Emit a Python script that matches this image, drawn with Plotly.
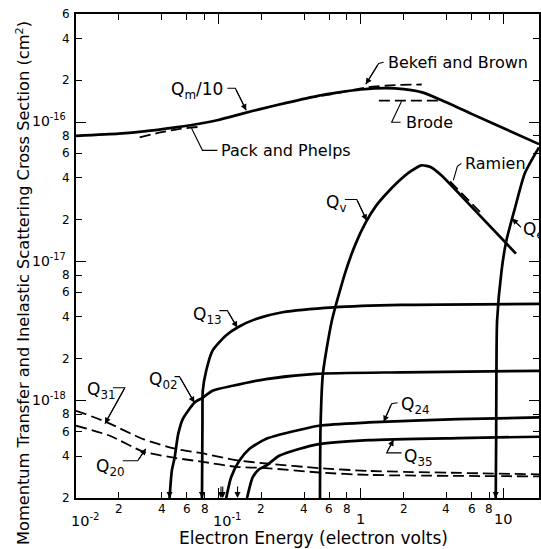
import math
import plotly.graph_objects as go

# ---- axis ticks -------------------------------------------------------
x_major = [0.01, 0.1, 1, 10]
x_major_text = ["10<sup>-2</sup>", "10<sup>-1</sup>", "1", "10"]
x_minor = [0.02, 0.04, 0.06, 0.08, 0.2, 0.4, 0.6, 0.8, 2, 4, 6, 8]
x_minor_text = ["2", "4", "6", "8"] * 3

y_major = [1e-18, 1e-17, 1e-16]
y_major_text = ["10<sup>-18</sup>", "10<sup>-17</sup>", "10<sup>-16</sup>"]
y_minor = [2e-19, 4e-19, 6e-19, 8e-19,
           2e-18, 4e-18, 6e-18, 8e-18,
           2e-17, 4e-17, 6e-17, 8e-17,
           2e-16, 4e-16, 6e-16]
y_minor_text = ["2", "4", "6", "8"] * 3 + ["2", "4", "6"]

X_MIN, X_MAX = 0.01, 17.86
Y_MIN, Y_MAX = 2e-19, 6e-16

# ---- cross sections (electron energy in eV, cross section in cm^2) ----
qm_e = [0.01, 0.02, 0.03, 0.05, 0.075, 0.1, 0.15, 0.2, 0.3, 0.5, 0.7, 1.0,
        1.5, 2.0, 2.7, 3.7, 6.0, 10, 17.86]
qm_q = [8.0e-17, 8.3e-17, 8.6e-17, 9.2e-17, 9.8e-17, 1.04e-16, 1.16e-16,
        1.25e-16, 1.38e-16, 1.55e-16, 1.64e-16, 1.72e-16, 1.76e-16, 1.73e-16,
        1.64e-16, 1.44e-16, 1.15e-16, 9.1e-17, 6.97e-17]

pack_e = [0.028, 0.04, 0.055, 0.075]
pack_q = [7.8e-17, 8.5e-17, 9.0e-17, 9.3e-17]

bekefi_e = [0.41, 0.6, 1.14, 1.75, 2.68]
bekefi_q = [1.49e-16, 1.58e-16, 1.79e-16, 1.85e-16, 1.87e-16]

brode_e = [1.34, 3.63]
brode_q = [1.43e-16, 1.43e-16]

qv_e = [0.517, 0.522, 0.542, 0.627, 0.786, 0.923, 1.084, 1.273, 1.496,
        1.844, 2.237, 2.67, 3.14, 3.68, 6.74, 12.3]
qv_q = [2.0e-19, 6.6e-19, 1.56e-18, 3.77e-18, 8.6e-18, 1.35e-17, 1.91e-17,
        2.49e-17, 3.03e-17, 3.77e-17, 4.44e-17, 4.91e-17, 4.74e-17, 4.16e-17,
        2.18e-17, 1.14e-17]

ramien_e = [4.24, 6.87]
ramien_q = [3.76e-17, 2.27e-17]

qe_e = [8.87, 8.93, 8.97, 9.07, 9.75, 10.55, 12.1, 14.2, 17.86]
qe_q = [2.0e-19, 5.15e-19, 1.56e-18, 3.77e-18, 8.6e-18, 1.42e-17, 2.41e-17,
        4.3e-17, 6.6e-17]

q13_e = [0.0767, 0.077, 0.0773, 0.0777, 0.0821, 0.091, 0.113, 0.137, 0.184,
         0.282, 0.648, 1.93, 17.86]
q13_q = [2.0e-19, 3.7e-19, 7.18e-19, 1.18e-18, 1.64e-18, 2.29e-18, 2.94e-18,
         3.37e-18, 3.87e-18, 4.32e-18, 4.69e-18, 4.88e-18, 4.96e-18]

q02_e = [0.0454, 0.0471, 0.0493, 0.0522, 0.0563, 0.0681, 0.0775, 0.091,
         0.126, 0.216, 0.482, 1.95, 17.86]
q02_q = [2.0e-19, 3.13e-19, 3.91e-19, 5.75e-19, 7.41e-19, 9.72e-19, 1.05e-18,
         1.18e-18, 1.28e-18, 1.43e-18, 1.56e-18, 1.60e-18, 1.64e-18]

q24_e = [0.1135, 0.1227, 0.1402, 0.1647, 0.2156, 0.508, 1.137, 4.84, 17.86]
q24_q = [2.0e-19, 2.81e-19, 3.70e-19, 4.50e-19, 5.31e-19, 6.61e-19, 6.98e-19,
         7.38e-19, 7.58e-19]

q35_e = [0.159, 0.174, 0.194, 0.216, 0.267, 0.368, 0.508, 1.137, 4.84, 17.86]
q35_q = [2.0e-19, 2.81e-19, 3.23e-19, 3.41e-19, 4.02e-19, 4.50e-19, 4.88e-19,
         5.21e-19, 5.39e-19, 5.51e-19]

q31_e = [0.01, 0.01596, 0.0296, 0.0506, 0.0777, 0.133, 0.216, 0.508, 1.137,
         17.86]
q31_q = [8.47e-19, 7.10e-19, 5.30e-19, 4.50e-19, 4.18e-19, 3.74e-19,
         3.54e-19, 3.28e-19, 3.13e-19, 2.96e-19]

q20_e = [0.01, 0.0173, 0.0296, 0.0506, 0.0777, 0.133, 0.216, 0.508, 1.137,
         17.86]
q20_q = [6.61e-19, 5.60e-19, 4.31e-19, 3.87e-19, 3.64e-19, 3.35e-19,
         3.28e-19, 3.05e-19, 2.93e-19, 2.86e-19]

# threshold energies marked with arrows on the energy axis
threshold_e = [0.0454, 0.0767, 0.1043, 0.1073, 0.1363, 8.87]

FONT = "DejaVu Sans"
INK = "black"

solid = [(qm_e, qm_q), (qv_e, qv_q), (qe_e, qe_q), (q13_e, q13_q),
         (q02_e, q02_q), (q24_e, q24_q), (q35_e, q35_q)]
dashed = [(pack_e, pack_q), (bekefi_e, bekefi_q), (brode_e, brode_q),
          (ramien_e, ramien_q), (q31_e, q31_q), (q20_e, q20_q)]

fig = go.Figure()
for e, q in solid:
    fig.add_trace(go.Scatter(x=e, y=q, mode="lines",
                             line=dict(color=INK, width=2.7, shape="spline",
                                       smoothing=0.6),
                             hoverinfo="skip", showlegend=False))
for e, q in dashed:
    fig.add_trace(go.Scatter(x=e, y=q, mode="lines",
                             line=dict(color=INK, width=1.8, dash="11px,5px",
                                       shape="spline", smoothing=0.6),
                             hoverinfo="skip", showlegend=False))

L = math.log10
ann = []

# curve labels: (text, energy, cross section, anchor)
labels = [
    ("Q<sub>m</sub>/10", 0.0702, 1.70e-16, "center"),
    ("Pack and Phelps", 0.1016, 6.29e-17, "left"),
    ("Bekefi and Brown", 1.496, 2.70e-16, "left"),
    ("Brode", 2.0, 1.0e-16, "left"),
    ("Ramien", 5.25, 5.07e-17, "left"),
    ("Q<sub>v</sub>", 0.668, 2.61e-17, "center"),
    ("Q<sub>e</sub>", 13.36, 1.67e-17, "left"),
    ("Q<sub>13</sub>", 0.0838, 4.09e-18, "center"),
    ("Q<sub>02</sub>", 0.0409, 1.39e-18, "center"),
    ("Q<sub>31</sub>", 0.01508, 1.18e-18, "center"),
    ("Q<sub>20</sub>", 0.01757, 3.30e-19, "center"),
    ("Q<sub>24</sub>", 1.844, 9.20e-19, "left"),
    ("Q<sub>35</sub>", 1.935, 3.89e-19, "left"),
]
for text, e, q, anchor in labels:
    size = 17 if text.startswith("Q") else 16
    ann.append(dict(x=L(e), y=L(q), xref="x", yref="y", text=text,
                    showarrow=False, xanchor=anchor, yanchor="middle",
                    font=dict(family=FONT, size=size, color=INK)))

# leader lines from labels to curves: (points, arrowhead?)
leaders = [
    ([(0.1156, 1.757e-16), (0.1315, 1.757e-16), (0.157, 1.22e-16)], True),
    ([(0.0984, 6.29e-17), (0.0773, 6.29e-17), (0.0648, 9.05e-17)], False),
    ([(1.449, 2.70e-16), (1.336, 2.65e-16), (1.084, 1.875e-16)], True),
    ([(1.905, 1.0e-16), (1.647, 1.0e-16), (1.935, 1.416e-16)], False),
    ([(5.09, 5.07e-17), (4.77, 4.82e-17), (4.467, 3.83e-17)], False),
    ([(0.773, 2.79e-17), (0.938, 2.79e-17), (1.101, 1.97e-17)], True),
    ([(13.36, 1.76e-17), (11.56, 2.04e-17)], True),
    ([(0.1016, 4.44e-18), (0.1156, 4.44e-18), (0.1358, 3.35e-18)], True),
    ([(0.0492, 1.49e-18), (0.0533, 1.49e-18), (0.0679, 9.68e-19)], True),
    ([(0.01815, 1.24e-18), (0.02203, 1.24e-18), (0.01596, 6.84e-19)], True),
    ([(0.02132, 3.70e-19), (0.02716, 3.70e-19), (0.0309, 4.52e-19)], True),
    ([(1.814, 9.68e-19), (1.647, 9.51e-19), (1.449, 7.06e-19)], True),
    ([(1.935, 4.22e-19), (1.520, 4.22e-19), (1.701, 5.24e-19)], True),
]
for pts, head in leaders:
    fig.add_trace(go.Scatter(x=[p[0] for p in pts], y=[p[1] for p in pts],
                             mode="lines", line=dict(color=INK, width=1.1),
                             hoverinfo="skip", showlegend=False))
    if head:
        (e0, q0), (e1, q1) = pts[-2], pts[-1]
        ann.append(dict(x=L(e1), y=L(q1), ax=L(e0), ay=L(q0), xref="x",
                        yref="y", axref="x", ayref="y", text="",
                        showarrow=True, arrowhead=2, arrowsize=1.1,
                        arrowwidth=1.1, arrowcolor=INK))

# threshold arrows on the energy axis
for e in threshold_e:
    ann.append(dict(x=L(e), y=L(Y_MIN), xref="x", yref="y", ax=0, ay=-13,
                    text="", showarrow=True, arrowhead=2, arrowsize=1.1,
                    arrowwidth=1.1, arrowcolor=INK))

# tick labels
for v, t in zip(x_minor, x_minor_text):
    ann.append(dict(x=L(v), y=0, xref="x", yref="paper", text=t,
                    showarrow=False, yanchor="top", yshift=-2,
                    font=dict(family=FONT, size=12, color=INK)))
for v, t in zip(x_major, x_major_text):
    shift = 9 if "sup" in t else 0
    ann.append(dict(x=L(v), y=0, xref="x", yref="paper", text=t,
                    showarrow=False, yanchor="top", yshift=-12, xshift=shift,
                    borderpad=0,
                    font=dict(family=FONT, size=14.5, color=INK)))
for v, t in zip(y_minor, y_minor_text):
    ann.append(dict(x=0, y=L(v), xref="paper", yref="y", text=t,
                    showarrow=False, xanchor="right", yanchor="middle",
                    xshift=-4, font=dict(family=FONT, size=12, color=INK)))
for v, t in zip(y_major, y_major_text):
    ann.append(dict(x=0, y=L(v), xref="paper", yref="y", text=t,
                    showarrow=False, xanchor="right", yanchor="middle",
                    xshift=-8, yshift=2,
                    font=dict(family=FONT, size=14, color=INK)))

# axis titles
ann.append(dict(x=0.512, y=-0.083, xref="paper", yref="paper",
                text="Electron Energy (electron volts)", showarrow=False,
                xanchor="center", yanchor="middle", borderpad=0,
                font=dict(family=FONT, size=17, color=INK)))
ann.append(dict(x=-0.116, y=0.445, xref="paper", yref="paper",
                text="Momentum Transfer and Inelastic Scattering Cross "
                     "Section (cm<sup>2</sup>)",
                textangle=-90, showarrow=False, xanchor="center",
                yanchor="middle", font=dict(family=FONT, size=16.2, color=INK)))

axis_common = dict(type="log", showgrid=False, zeroline=False, showline=True,
                   linecolor=INK, linewidth=2, mirror="ticks", ticks="inside",
                   tickcolor=INK, tickwidth=1.4, ticklen=10,
                   showticklabels=False)

fig.update_layout(
    width=541, height=549,
    margin=dict(l=76, r=0, t=14, b=51),
    paper_bgcolor="white", plot_bgcolor="white",
    xaxis=dict(range=[L(X_MIN), L(X_MAX)], tickvals=x_major,
               minor=dict(tickvals=x_minor, ticks="inside", ticklen=6,
                          tickcolor=INK, tickwidth=1.2),
               **axis_common),
    yaxis=dict(range=[L(Y_MIN), L(Y_MAX)], tickvals=y_major,
               minor=dict(tickvals=y_minor, ticks="inside", ticklen=6,
                          tickcolor=INK, tickwidth=1.2),
               **axis_common),
    annotations=ann,
)

fig.write_html("out.html")
